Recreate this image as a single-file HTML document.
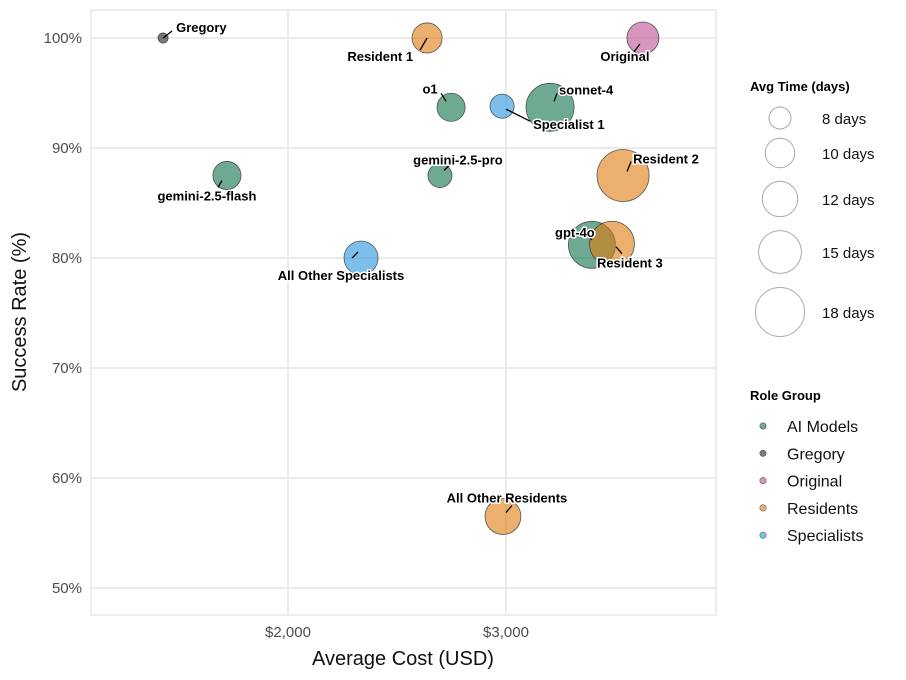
<!DOCTYPE html>
<html><head><meta charset="utf-8"><style>
body{margin:0;background:#fff;}
svg{display:block;font-family:"Liberation Sans",Arial,sans-serif;}
.lbl{font-weight:bold;font-size:13px;fill:#000;stroke:#fff;stroke-width:3px;paint-order:stroke;stroke-linejoin:round;}
</style></head><body>
<svg id="chart" width="906" height="680" viewBox="0 0 906 680">
<rect x="91" y="10" width="625" height="605" fill="#fff" stroke="#dcdcdc"/>
<g id="grid"></g>
<g id="pts"></g>
<g id="lbls"></g>
<g id="axes"></g>
<text x="403" y="665" text-anchor="middle" font-size="20" fill="#111">Average Cost (USD)</text>
<text x="26" y="312" text-anchor="middle" font-size="20" fill="#111" transform="rotate(-90 26 312)">Success Rate (%)</text>
<g id="legend"></g>
</svg>
<script>
const names=["Gregory","Resident 1","Original","o1","Specialist 1","sonnet-4","gemini-2.5-flash","gemini-2.5-pro","Resident 2","All Other Specialists","gpt-4o","Resident 3","All Other Residents"];
const groups=["Gregory","Residents","Original","AI Models","Specialists","AI Models","AI Models","AI Models","Residents","Specialists","AI Models","Residents","Residents"];
const costs=[1427,2638,3628,2748,2982,3202,1720,2697,3537,2335,3394,3486,2986];
const rates=[100,100,100,93.7,93.8,93.7,87.5,87.5,87.5,80,81.2,81.3,56.5];
const days=[6,10.2,10.8,9.6,8.5,17.5,9.6,8.5,19.6,11.5,17,16,12.2];
const xTicks=[2000,3000];
const yTicks=[50,60,70,80,90,100];
const sizeBreaks=[8,10,12,15,18];
const groupNames=["AI Models","Gregory","Original","Residents","Specialists"];
const groupColors={"AI Models":"#0D7148","Gregory":"#222222","Original":"#BC5093","Residents":"#DE7A0D","Specialists":"#2693DE"};
// label placement offsets (styling): [tx,ty,anchor,sx1,sy1,sx2,sy2] relative to point px
const lblPos=[[13,-6,"start",0,0,9,-7],[-14,23,"end",0,0,-7,12],[-18,23,"middle",-3,6,-9,14],[-21,-14,"middle",-5,-6,-10,-14],[31,23,"start",4,3,28,15],[9,-13,"start",4,-6,7,-14],[-20,25,"middle",-5,5,-9,12],[18,-11,"middle",4,-5,10,-11],[10,-12,"start",4,-4,8,-14],[-20,22,"middle",-3,-6,-9,0],[-17,-8,"middle",-6,-12,0,-5],[-15,24,"start",4,3,10,10],[4,-14,"middle",3,-4,9,-11]];
const X=v=>288+(v-2000)*0.218;
const Y=v=>38+(100-v)*11;
const R=d=>Math.sqrt(Math.max(0,d*47.9-262));
const NS="http://www.w3.org/2000/svg";
function mk(t,a,p){const e=document.createElementNS(NS,t);for(const k in a)e.setAttribute(k,a[k]);p.appendChild(e);return e;}
const grid=document.getElementById('grid'),axes=document.getElementById('axes');
yTicks.forEach(t=>{const l=mk('line',{x1:91,x2:716,y1:Y(t),y2:Y(t),stroke:'#ebebeb','stroke-width':2},grid);


const tx=mk('text',{x:82,y:Y(t)+5,'text-anchor':'end','font-size':15,fill:'#4d4d4d'},axes);tx.textContent=t+'%';

});
xTicks.forEach(t=>{const l=mk('line',{x1:X(t),x2:X(t),y1:10,y2:615,stroke:'#ebebeb','stroke-width':2},grid);


const tx=mk('text',{x:X(t),y:637,'text-anchor':'middle','font-size':15,fill:'#4d4d4d'},axes);tx.textContent='$'+t.toLocaleString('en-US');

});
const pts=document.getElementById('pts'),lbls=document.getElementById('lbls');
names.forEach((n,i)=>{const cx=X(costs[i]),cy=Y(rates[i]);
const c=mk('circle',{cx:cx,cy:cy,r:R(days[i]),fill:groupColors[groups[i]],'fill-opacity':0.6,stroke:'#333','stroke-opacity':0.8,'stroke-width':0.8},pts);


const p=lblPos[i];
const s=mk('line',{x1:cx+p[3],y1:cy+p[4],x2:cx+p[5],y2:cy+p[6],stroke:'#000','stroke-width':1.3},lbls);


const t=mk('text',{x:cx+p[0],y:cy+p[1],'text-anchor':p[2],class:'lbl'},lbls);t.textContent=n;

});
const lg=document.getElementById('legend');
let t=mk('text',{x:750,y:91,'font-size':13,'font-weight':'bold',fill:'#000'},lg);t.textContent='Avg Time (days)';


const sizeY=[118,153,199,252,312];
sizeBreaks.forEach((d,i)=>{const c=mk('circle',{cx:780,cy:sizeY[i],r:R(d),fill:'none',stroke:'#aaa','stroke-width':1},lg);


const tx=mk('text',{x:822,y:sizeY[i]+6,'font-size':15,fill:'#111'},lg);tx.textContent=d+' days';

});
t=mk('text',{x:750,y:400,'font-size':13,'font-weight':'bold',fill:'#000'},lg);t.textContent='Role Group';


groupNames.forEach((g,i)=>{const y=426+i*27.3;
const c=mk('circle',{cx:763,cy:y,r:3.2,fill:groupColors[g],'fill-opacity':0.6,stroke:'#333','stroke-opacity':0.7,'stroke-width':0.6},lg);


const tx=mk('text',{x:787,y:y+6,'font-size':16,fill:'#111'},lg);tx.textContent=g;

});
</script>
</body></html>
